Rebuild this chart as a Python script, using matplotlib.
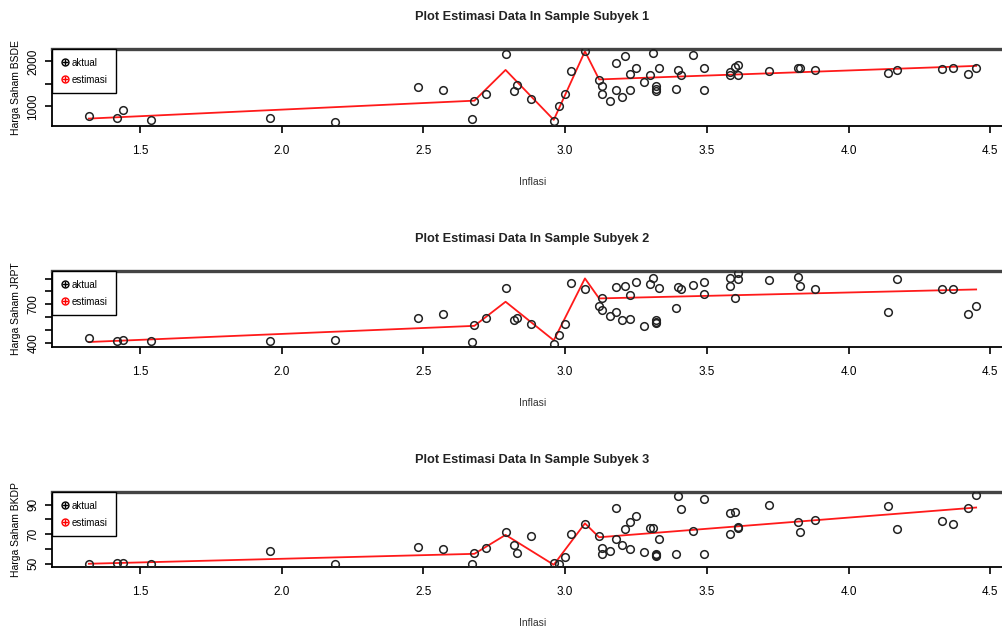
"""
Plot estimasi data in sample: harga saham vs inflasi, tiga subyek.
"""

import matplotlib
matplotlib.use('Agg')
import matplotlib.pyplot as plt
from matplotlib.lines import Line2D

plt.rcParams['font.family'] = ['Liberation Sans Narrow', 'Liberation Sans', 'DejaVu Sans']

# inflasi (sama untuk ketiga subyek)
inflasi = [1.32, 1.42, 1.44, 1.54, 1.96, 2.19, 2.48, 2.57, 2.67, 2.68,
           2.72, 2.79, 2.82, 2.83, 2.88, 2.96, 2.98, 3.00, 3.02, 3.07,
           3.12, 3.13, 3.13, 3.16, 3.18, 3.18, 3.20, 3.21, 3.23, 3.23,
           3.25, 3.28, 3.30, 3.31, 3.32, 3.32, 3.32, 3.33, 3.39, 3.40,
           3.41, 3.45, 3.49, 3.49, 3.58, 3.58, 3.60, 3.61, 3.61, 3.72,
           3.82, 3.83, 3.88, 4.14, 4.17, 4.33, 4.37, 4.42, 4.45]

bsde = [789, 744, 910, 699, 752, 654, 1436, 1376, 714, 1128,
        1278, 2173, 1353, 1466, 1158, 684, 1007, 1271, 1782, 2226,
        1579, 1451, 1278, 1113, 1962, 1376, 1210, 2128, 1729, 1361,
        1850, 1549, 1692, 2188, 1451, 1391, 1353, 1857, 1398, 1812,
        1707, 2143, 1857, 1368, 1759, 1707, 1880, 1925, 1707, 1789,
        1857, 1857, 1804, 1752, 1812, 1827, 1857, 1714, 1857]

jrpt = [434, 413, 423, 410, 413, 423, 593, 622, 405, 536,
        596, 823, 580, 596, 549, 392, 463, 549, 867, 818,
        685, 658, 745, 609, 836, 640, 575, 844, 771, 583,
        875, 531, 857, 901, 575, 554, 564, 823, 672, 831,
        815, 846, 870, 779, 901, 844, 745, 940, 893, 888,
        909, 844, 818, 640, 893, 818, 815, 622, 687]

bkdp = [50.0, 50.4, 50.4, 49.8, 58.7, 49.8, 61.6, 59.8, 49.8, 57.6,
        60.5, 71.7, 62.8, 57.2, 69.0, 50.4, 50.0, 54.5, 69.9, 76.8,
        69.0, 60.5, 56.7, 58.7, 88.0, 66.6, 62.8, 73.5, 78.0, 59.8,
        82.4, 57.8, 73.9, 73.9, 56.7, 55.4, 56.0, 66.6, 56.7, 95.9,
        86.7, 72.4, 94.1, 56.7, 84.0, 70.1, 84.7, 75.1, 73.9, 90.0,
        78.0, 71.7, 79.5, 88.9, 73.5, 78.9, 76.8, 87.8, 96.8]

# titik sudut garis estimasi
inflasi_est = [1.32, 2.68, 2.79, 2.96, 3.07, 3.12, 4.45]
bsde_est = [729, 1128, 1812, 700, 2226, 1601, 1902]
jrpt_est = [405, 531, 719, 418, 901, 745, 815]
bkdp_est = [50.0, 56.7, 69.5, 49.3, 77.3, 67.9, 88.0]

panels = [
    ('Plot Estimasi Data In Sample Subyek 1', 'Harga Saham BSDE', bsde, bsde_est,
     (564, 2278), [1000, 1500, 2000], ['1000', '', '2000']),
    ('Plot Estimasi Data In Sample Subyek 2', 'Harga Saham JRPT', jrpt, jrpt_est,
     (366, 959), [400, 500, 600, 700, 800, 900], ['400', '', '', '700', '', '']),
    ('Plot Estimasi Data In Sample Subyek 3', 'Harga Saham BKDP', bkdp, bkdp_est,
     (47.8, 98.5), [50, 60, 70, 80, 90], ['50', '', '70', '', '90']),
]

W, H = 1003, 633
fig = plt.figure(figsize=(W / 100, H / 100), dpi=100)

# (atas, bawah) sumbu dalam piksel
boxes = [(49, 126), (271, 347), (492, 567)]
left_px, right_px = 52, 1013

for (title, ylab, y, y_est, ylim, yt, ytl), (top, bot) in zip(panels, boxes):
    ax = fig.add_axes([left_px / W, (H - bot) / H, (right_px - left_px) / W, (bot - top) / H])
    ax.plot(inflasi, y, 'o', mfc='none', mec='#222222', mew=1.1, ms=5.5, zorder=3)
    ax.plot(inflasi_est, y_est, '-', color='#ff1a1a', lw=1.3, zorder=2)
    ax.set_xlim(1.19, 4.58)
    ax.set_ylim(*ylim)
    ax.set_xticks([1.5, 2.0, 2.5, 3.0, 3.5, 4.0, 4.5])
    ax.set_xticklabels(['1.5', '2.0', '2.5', '3.0', '3.5', '4.0', '4.5'])
    ax.set_yticks(yt)
    ax.set_yticklabels(ytl, rotation=90, va='center')
    ax.tick_params(axis='x', length=5, width=1.2, pad=9, labelsize=8.5)
    ax.tick_params(axis='y', length=5, width=1.2, pad=4, labelsize=8.5)
    for s in ax.spines.values():
        s.set_linewidth(1.3)
    ax.spines['top'].set_linewidth(2.4)
    ax.spines['top'].set_color('#444444')
    ax.set_xlabel('Inflasi', fontsize=7.5, color='#333333', labelpad=14)
    ax.set_ylabel(ylab, fontsize=7.5, labelpad=5)
    fig.text(532 / W, 1 - (top - 32) / H, title, ha='center', va='center',
             fontsize=9.2, fontweight='bold', color='#222222')

    h_akt = (Line2D([], [], marker='o', ls='none', mfc='none', mec='black', ms=5),
             Line2D([], [], marker='+', ls='none', color='black', ms=5))
    h_est = (Line2D([], [], marker='o', ls='none', mfc='none', mec='red', ms=5),
             Line2D([], [], marker='+', ls='none', color='red', ms=5))
    leg = ax.legend([h_akt, h_est], ['aktual', 'estimasi'], loc='upper left',
                    borderaxespad=0, fancybox=False, edgecolor='black', fontsize=7,
                    handlelength=0.8, handletextpad=0.3, borderpad=0.9,
                    labelspacing=0.7, framealpha=1)
    leg.get_frame().set_linewidth(1.0)

plt.savefig('out.png', dpi=100)
plt.close()
